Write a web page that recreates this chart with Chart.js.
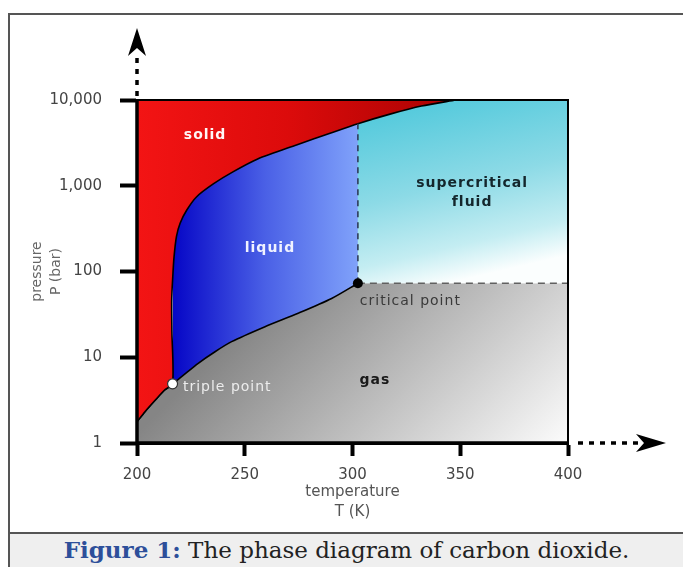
<!DOCTYPE html>
<html><head><meta charset="utf-8">
<script src="https://cdn.jsdelivr.net/npm/chart.js@4.4.1/dist/chart.umd.min.js"></script>
<style>
html,body{margin:0;padding:0;background:#fff;}
body{width:683px;height:567px;position:relative;overflow:hidden;}
#frame{position:absolute;left:8px;top:13px;width:700px;height:570px;border-left:2px solid #555;border-top:2px solid #555;box-sizing:border-box;}
#cap{position:absolute;left:8px;top:532px;width:700px;height:40px;border-top:2px solid #555;border-left:2px solid #555;background:#efefef;box-sizing:border-box;}
#captext{position:absolute;left:10px;width:673px;top:536px;line-height:28px;text-align:center;font-family:"DejaVu Serif";font-size:23px;color:#222;white-space:nowrap;}
#captext b{color:#2d4f9a;}
canvas{position:absolute;left:0;top:0;}
</style></head>
<body>
<div id="frame"></div>
<div id="cap"></div>
<div id="captext"><b>Figure 1:</b> The phase diagram of carbon dioxide.</div>
<canvas id="c" width="683" height="533"></canvas>
<script>
// ---- data ----
const sublimationT = [200, 203.7, 208.4, 212.8, 216.5];
const sublimationP = [1.77, 2.32, 3.15, 4.15, 4.9];
const meltingT = [216.5, 216.2, 216.1, 216.6, 217.2, 218.3, 220.0, 223.1, 227.7, 235.4, 244.5, 256, 274, 289.6, 302.5, 317, 332, 348];
const meltingP = [4.9, 20, 46, 87, 149, 255, 365, 521, 745, 1050, 1450, 2050, 2990, 4100, 5300, 6800, 8500, 10000];
const vaporT = [216.5, 220.7, 228.4, 236.2, 243.9, 259.4, 274.8, 290.3, 302.5];
const vaporP = [4.9, 5.93, 8.5, 11.6, 15.2, 22.7, 32.6, 48.5, 73];
const tripleT = 216.5, tripleP = 4.9;
const criticalT = 302.5, criticalP = 73;
const tempMin = 200, tempMax = 400;
const presMin = 1, presMax = 10000;
const xTicks = [200, 250, 300, 350, 400];
const yTicks = [1, 10, 100, 1000, 10000];
const yTickLabels = ['1', '10', '100', '1,000', '10,000'];
const regionNames = ['solid', 'liquid', 'supercritical', 'fluid', 'gas', 'triple point', 'critical point'];

// ---- helpers ----
const pts = (T, P) => T.map((t, i) => ({x: t, y: P[i]}));
const sublimation = pts(sublimationT, sublimationP);
const melting = pts(meltingT, meltingP);
const vapor = pts(vaporT, vaporP);
const meltAtCritical = meltingP[meltingT.indexOf(criticalT)];
const overlap = 2.5; // fills beyond the critical isotherm start slightly early, hidden under the liquid fill (avoids a seam)

function grad(ctx, fn) {
  const chart = ctx.chart; const a = chart.chartArea;
  if (!a) return 'rgba(0,0,0,0)';
  return fn(chart.ctx, a, chart.scales);
}
const redFill = c => grad(c, (g, a) => {
  const gr = g.createLinearGradient(a.left, 0, a.right, 0);
  gr.addColorStop(0, '#f31414'); gr.addColorStop(0.35, '#dc0b0b'); gr.addColorStop(0.75, '#a80202'); gr.addColorStop(1, '#960000');
  return gr;
});
const blueFill = c => grad(c, (g, a, s) => {
  const gr = g.createLinearGradient(s.x.getPixelForValue(tripleT), 0, s.x.getPixelForValue(criticalT), 0);
  gr.addColorStop(0, '#0606c6'); gr.addColorStop(0.5, '#4a60e6'); gr.addColorStop(1, '#80a2fa');
  return gr;
});
const cyanFill = c => grad(c, (g, a) => {
  const w = a.right - a.left, h = a.bottom - a.top;
  const gr = g.createLinearGradient(a.left + 0.6 * w, a.top, a.left + 0.7 * w, a.top + 0.54 * h);
  gr.addColorStop(0, '#4ec8db'); gr.addColorStop(0.5, '#8cdae6'); gr.addColorStop(0.82, '#c4edf2'); gr.addColorStop(1, '#fbfefe');
  return gr;
});
const grayFill = c => grad(c, (g, a) => {
  const w = a.right - a.left, h = a.bottom - a.top;
  const gr = g.createLinearGradient(a.left + 0.262 * w, a.top + 0.641 * h, a.left + 0.787 * w, a.top + 1.3 * h);
  gr.addColorStop(0, '#858585'); gr.addColorStop(0.5, '#c2c2c2'); gr.addColorStop(1, '#ffffff');
  return gr;
});

const labelPos = {
  solid: {x: 231.6, y: 3900, color: '#fff6f6', bold: true, align: 'center'},
  liquid: {x: 261.7, y: 188, color: '#f0f2ff', bold: true, align: 'center'},
  supercritical: {x: 355.5, y: 1077, color: '#14262c', bold: true, align: 'center'},
  fluid: {x: 355.5, y: 646, color: '#14262c', bold: true, align: 'center'},
  gas: {x: 310.4, y: 5.43, color: '#1a1a1a', bold: true, align: 'center'},
  'triple point': {x: 221.3, y: 4.5, color: '#ececec', bold: false, align: 'left'},
  'critical point': {x: 303.4, y: 45.3, color: '#3a3a3a', bold: false, align: 'left'}
};

const decorPlugin = {
  id: 'decor',
  afterDatasetsDraw(chart) {
    const g = chart.ctx, a = chart.chartArea, s = chart.scales;
    g.save();
    g.strokeStyle = '#000';
    g.lineWidth = 2;
    g.beginPath(); g.moveTo(a.left, a.top); g.lineTo(a.right, a.top); g.lineTo(a.right, a.bottom); g.stroke();
    g.lineWidth = 3.5;
    g.beginPath(); g.moveTo(a.left, a.top - 1); g.lineTo(a.left, a.bottom); g.lineTo(a.right + 1, a.bottom); g.stroke();
    g.textBaseline = 'middle';
    regionNames.forEach(n => {
      const p = labelPos[n];
      g.font = (p.bold ? 'bold ' : '') + '14px "DejaVu Sans"';
      g.letterSpacing = '1px';
      g.fillStyle = p.color;
      g.textAlign = p.align;
      g.fillText(n, s.x.getPixelForValue(p.x), s.y.getPixelForValue(p.y));
    });
    g.restore();
  },
  afterDraw(chart) {
    const g = chart.ctx, a = chart.chartArea;
    g.save();
    g.strokeStyle = '#000'; g.fillStyle = '#000';
    g.lineWidth = 3.5; g.setLineDash([5, 6]);
    g.beginPath(); g.moveTo(a.left, a.top - 4); g.lineTo(a.left, a.top - 48); g.stroke();
    g.beginPath(); g.moveTo(a.right + 10, a.bottom); g.lineTo(a.right + 72, a.bottom); g.stroke();
    g.setLineDash([]);
    const tipY = a.top - 72;
    g.beginPath();
    g.moveTo(a.left, tipY); g.lineTo(a.left + 9, tipY + 28); g.lineTo(a.left, tipY + 20); g.lineTo(a.left - 9, tipY + 28); g.closePath(); g.fill();
    const tipX = a.right + 98;
    g.beginPath();
    g.moveTo(tipX, a.bottom); g.lineTo(tipX - 30, a.bottom - 9); g.lineTo(tipX - 22, a.bottom); g.lineTo(tipX - 30, a.bottom + 9); g.closePath(); g.fill();
    g.restore();
  }
};

const base = {pointRadius: 0, pointHoverRadius: 0};
const curve = {tension: 0.25};
const straight = {tension: 0};
const beyondCritical = [{x: criticalT - overlap, y: criticalP}, {x: tempMax, y: criticalP}];
new Chart(document.getElementById('c'), {
  type: 'line',
  data: {
    datasets: [
      {label: 'points', data: [{x: tripleT, y: tripleP}, {x: criticalT, y: criticalP}], showLine: false,
        pointRadius: 5, pointBackgroundColor: ['#ffffff', '#000000'], pointBorderColor: ['#333', '#000'], pointBorderWidth: [1.2, 0], order: 0},
      Object.assign({label: 'critical isotherm', data: [{x: criticalT, y: criticalP}, {x: criticalT, y: meltAtCritical}],
        borderColor: '#2e3b5a', borderWidth: 1.6, borderDash: [6, 5], fill: false, order: 1}, base, straight),
      Object.assign({label: 'critical isobar', data: [{x: criticalT, y: criticalP}, {x: tempMax, y: criticalP}],
        borderColor: '#606060', borderWidth: 1.6, borderDash: [7, 5], fill: false, order: 1}, base, straight),
      Object.assign({label: 'solid', data: sublimation.slice(0, -1).concat(melting),
        borderColor: '#000', borderWidth: 1.6, fill: 'end', backgroundColor: redFill, order: 2}, base, curve),
      Object.assign({label: 'gas', data: sublimation.slice(0, -1).concat(vapor),
        borderColor: '#000', borderWidth: 1.6, fill: 'start', backgroundColor: grayFill, order: 3}, base, curve),
      Object.assign({label: 'liquid', data: vapor,
        borderWidth: 0, borderColor: 'rgba(0,0,0,0)', fill: 'end', backgroundColor: blueFill, order: 5}, base, curve),
      Object.assign({label: 'supercritical', data: beyondCritical,
        borderWidth: 0, borderColor: 'rgba(0,0,0,0)', fill: 'end', backgroundColor: cyanFill, order: 6}, base, straight),
      Object.assign({label: 'gas above Tc', data: beyondCritical,
        borderWidth: 0, borderColor: 'rgba(0,0,0,0)', fill: 'start', backgroundColor: grayFill, order: 7}, base, straight)
    ]
  },
  options: {
    responsive: false, animation: false, devicePixelRatio: 1,
    layout: {padding: {left: 0, top: 100, right: 115, bottom: 0}},
    plugins: {legend: {display: false}, tooltip: {enabled: false}},
    events: [],
    scales: {
      x: {
        type: 'linear', min: tempMin, max: tempMax,
        afterBuildTicks: sc => { sc.ticks = xTicks.map(v => ({value: v})); },
        afterFit: sc => { sc.height = 90; },
        grid: {display: true, drawOnChartArea: false, drawTicks: true, tickLength: 13, tickWidth: 4, tickColor: '#000'},
        border: {display: true, width: 3, color: '#000'},
        ticks: {autoSkip: false, maxRotation: 0, padding: 10, color: '#444', font: {family: 'DejaVu Sans', size: 15}},
        title: {display: true, text: ['temperature', 'T (K)'], color: '#555', font: {family: 'DejaVu Sans', size: 15, lineHeight: 1.333}, padding: {top: 0, bottom: 11}}
      },
      y: {
        type: 'logarithmic', min: presMin, max: presMax,
        afterBuildTicks: sc => { sc.ticks = yTicks.map(v => ({value: v})); },
        afterFit: sc => { sc.width = 137; },
        grid: {display: true, drawOnChartArea: false, drawTicks: true, tickLength: 17, tickWidth: 4, tickColor: '#000'},
        border: {display: true, width: 3, color: '#000'},
        ticks: {padding: 18, color: '#444', font: {family: 'DejaVu Sans', size: 15},
          callback: v => { const i = yTicks.indexOf(v); return i >= 0 ? yTickLabels[i] : ''; }},
        title: {display: true, text: ['pressure', 'P (bar)'], color: '#666', font: {family: 'DejaVu Sans', size: 14, lineHeight: 1.36}, padding: {top: 28, bottom: 0}}
      }
    }
  },
  plugins: [decorPlugin]
});
</script>
</body></html>
